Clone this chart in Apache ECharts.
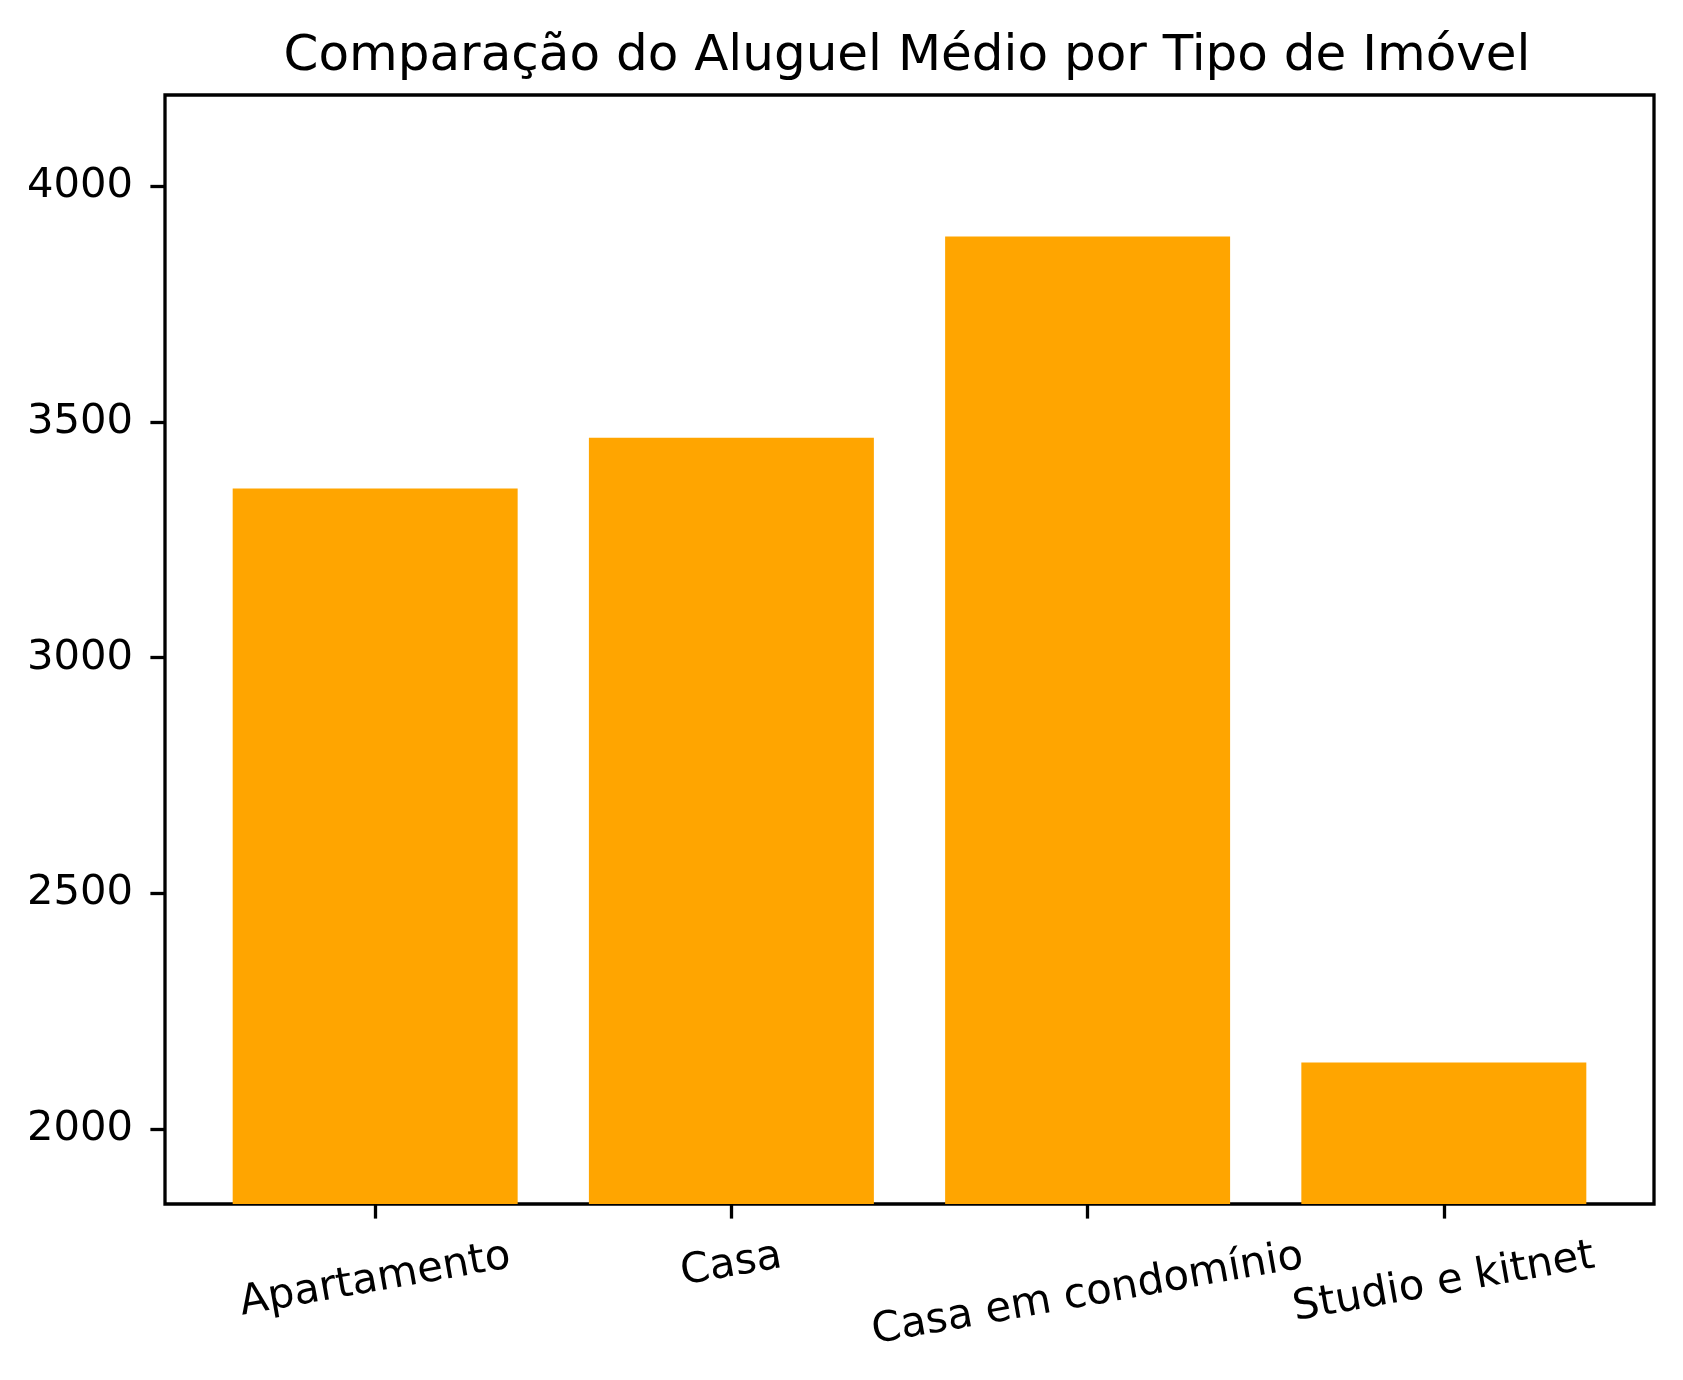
<!DOCTYPE html>
<html>
<head>
<meta charset="utf-8">
<script src="https://cdn.jsdelivr.net/npm/echarts@6/dist/echarts.min.js"></script>
<style>
  html, body { margin: 0; padding: 0; background: #fff; }
  #main { width: 1683px; height: 1380px; }
</style>
</head>
<body>
<div id="main"></div>
<script>
// dados
var categories = ['Apartamento', 'Casa', 'Casa em condomínio', 'Studio e kitnet'];
var rentValues = [3359, 3467, 3894, 2141];
var yTicks = [2000, 2500, 3000, 3500, 4000];
var xLimits = [-0.59, 3.59];
var yLimits = [1841, 4194];

var FONT = 'DejaVu Sans';
var LABEL_SIZE = 41.7;
var grid = {left: 165, top: 95, right: 29, bottom: 176};
var gridWidth = 1683 - grid.left - grid.right;
var barWidth = gridWidth * 0.8 / (xLimits[1] - xLimits[0]);

// matplotlib centra o rótulo rodado; compensa a largura de cada texto
var ctx = document.createElement('canvas').getContext('2d');
ctx.font = LABEL_SIZE + 'px "' + FONT + '"';
var ang = 10 * Math.PI / 180;
var rich = {};
categories.forEach(function (c, i) {
    var w = ctx.measureText(c).width;
    var p = w * Math.sin(ang);
    rich['l' + i] = {
        fontFamily: FONT, fontSize: LABEL_SIZE, color: '#000',
        padding: [p, p * Math.tan(ang), 0, 0]
    };
});

var myChart = echarts.init(document.getElementById('main'));

myChart.setOption({
    animation: false,
    backgroundColor: '#fff',
    title: {
        text: 'Comparação do Aluguel Médio por Tipo de Imóvel',
        left: 902,
        top: 27,
        textAlign: 'center',
        textStyle: {fontFamily: FONT, fontSize: 50, fontWeight: 'normal', color: '#000'}
    },
    grid: {
        left: grid.left, top: grid.top, right: grid.right, bottom: grid.bottom,
        show: true, borderColor: '#000', borderWidth: 3.3, backgroundColor: 'transparent'
    },
    xAxis: {
        type: 'value',
        min: xLimits[0],
        max: xLimits[1],
        axisLine: {show: false, onZero: false},
        splitLine: {show: false},
        axisTick: {
            show: true, length: 14.6, customValues: [0, 1, 2, 3],
            lineStyle: {color: '#000', width: 3.3}
        },
        axisLabel: {
            customValues: [0, 1, 2, 3],
            rotate: 10,
            align: 'center',
            verticalAlign: 'middle',
            margin: 52,
            fontFamily: FONT, fontSize: LABEL_SIZE, color: '#000',
            formatter: function (v) {
                var i = Math.round(v);
                return '{l' + i + '|' + categories[i] + '}';
            },
            rich: rich
        }
    },
    yAxis: {
        type: 'value',
        min: yLimits[0],
        max: yLimits[1],
        axisLine: {show: false, onZero: false},
        splitLine: {show: false},
        axisTick: {
            show: true, length: 14.6, customValues: yTicks,
            lineStyle: {color: '#000', width: 3.3}
        },
        axisLabel: {
            customValues: yTicks,
            margin: 32,
            fontFamily: FONT, fontSize: LABEL_SIZE, color: '#000',
            formatter: function (v) { return String(v); }
        }
    },
    series: [
        {
            type: 'bar',
            barWidth: barWidth,
            clip: true,
            itemStyle: {color: '#FFA500'},
            data: categories.map(function (c, i) { return [i, rentValues[i]]; })
        }
    ]
});
</script>
</body>
</html>
